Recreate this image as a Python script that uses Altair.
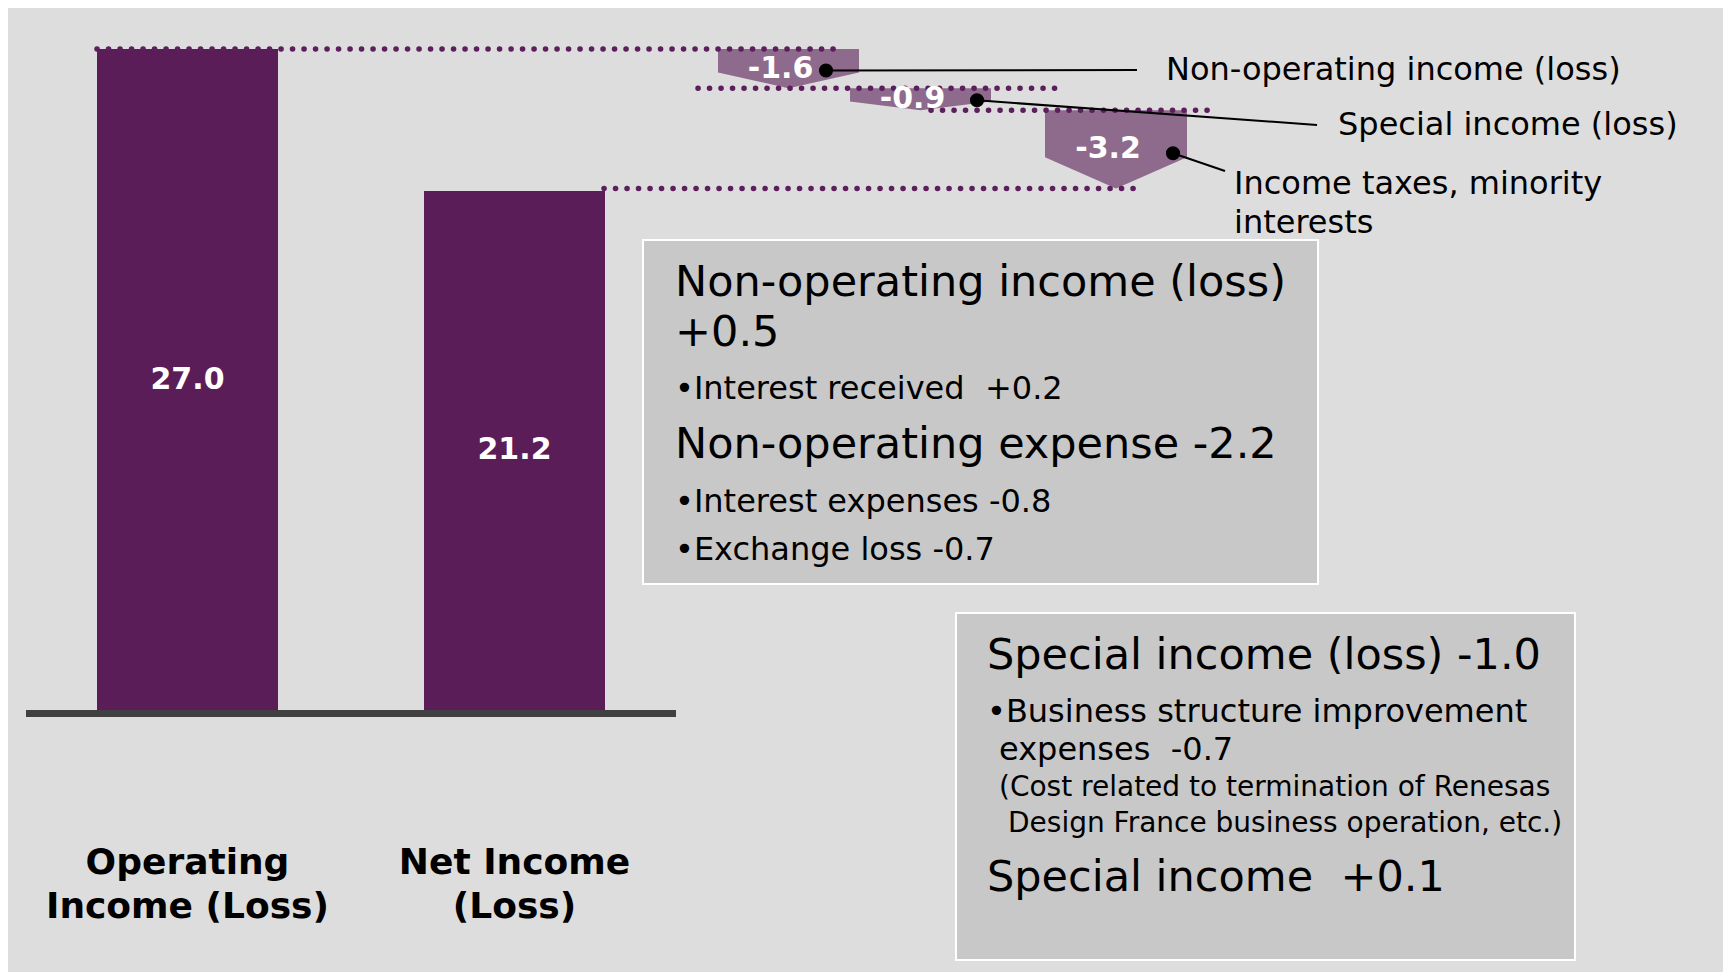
import altair as alt
import pandas as pd

NB = "\u00a0"

# ---------------- data ----------------
categories = ["Operating Income (Loss)", "Net Income (Loss)"]
category_lines = [["Operating", "Income (Loss)"], ["Net Income", "(Loss)"]]
bar_values = [27.0, 21.2]
bar_labels = ["27.0", "21.2"]

step_names = ["Non-operating income (loss)", "Special income (loss)",
              "Income taxes, minority interests"]
step_label_lines = [["Non-operating income (loss)"], ["Special income (loss)"],
                    ["Income taxes, minority", "interests"]]
step_values = [-1.6, -0.9, -3.2]
step_labels = ["-1.6", "-0.9", "-3.2"]

box1_lines = ["Non-operating income (loss)", "+0.5", "\u2022Interest received" + NB + NB + "+0.2",
              "Non-operating expense -2.2", "\u2022Interest expenses -0.8",
              "\u2022Exchange loss -0.7"]
box2_lines = ["Special income (loss) -1.0", "\u2022Business structure improvement",
              "expenses" + NB + NB + "-0.7", "(Cost related to termination of Renesas",
              "Design France business operation, etc.)", "Special income" + NB + NB + "+0.1"]

# ---------------- layout ----------------
W, H = 1715, 964
PX = 661 / 27.0          # pixels per unit
Y0 = 702                 # pixel row of value 0
YMAX = Y0 / PX
YMIN = -(H - Y0) / PX
FONT = "DejaVu Sans"
PURPLE = "#5a1d58"

bar_x = [(89, 270), (416, 597)]
block_x = [(710, 851), (842, 983), (1037, 1179)]
guide_x = [(89, 826), (690, 1055), (923, 1203), (596, 1126)]
dot_x = [818, 969, 1165]
dot_frac = 0.55
leader_end = [1129, 1309, 1217]
leader_end_y = [62, 117, 163]
label_x = [1158, 1330, 1226]
label_line_y = [[62], [117], [176, 215]]
rect_frac = 0.6

box_rects = [(635, 1310, 232, 576), (948, 1567, 605, 952)]
box1_pos = dict(x=[667] * 6, y=[275, 325, 381, 437, 494, 542], s=[43, 43, 32, 43, 32, 32])
box2_pos = dict(x=[979, 979, 991, 991, 1000, 979], y=[648, 704, 742, 780, 816, 870],
                s=[43, 32, 32, 28, 28, 43])
cat_line_y = [855, 899]

yscale = alt.Scale(domain=[YMIN, YMAX], nice=False, zero=False)


def Yv(field):
    return alt.Y(field, type="quantitative", scale=yscale, axis=None)


def Xp(field):
    return alt.X(field, type="quantitative", scale=None, axis=None)


def Yp(field):
    return alt.Y(field, type="quantitative", scale=None, axis=None)


def to_px(v):
    return Y0 - v * PX


# ---------------- derived tables ----------------
bars_df = pd.DataFrame({
    "cat": categories, "value": bar_values, "label": bar_labels,
    "x0": [b[0] for b in bar_x], "x1": [b[1] for b in bar_x],
    "xc": [(b[0] + b[1]) / 2 for b in bar_x], "zero": [0.0, 0.0],
})
bars_df["mid"] = bars_df["value"] / 2

tops, bots = [], []
level = bar_values[0]
for v in step_values:
    tops.append(level)
    level = round(level + v, 2)
    bots.append(level)
levels = [tops[0]] + bots

area_rows, step_rows, label_rows = [], [], []
for i, (name, v) in enumerate(zip(step_names, step_values)):
    x0, x1 = block_x[i]
    t = tops[i]
    area_rows += [
        {"step": name, "x": x0, "top": t, "bot": t + rect_frac * v},
        {"step": name, "x": (x0 + x1) / 2, "top": t, "bot": t + v},
        {"step": name, "x": x1, "top": t, "bot": t + rect_frac * v},
    ]
    step_rows.append({"step": name, "label": step_labels[i], "xc": (x0 + x1) / 2 - 8,
                      "mid": t + v / 2, "dot_py": to_px(t + dot_frac * v),
                      "dx": dot_x[i], "lx": leader_end[i], "ly": leader_end_y[i]})
    for line, y in zip(step_label_lines[i], label_line_y[i]):
        label_rows.append({"text": line, "x": label_x[i], "y": y})

area_df = pd.DataFrame(area_rows)
step_df = pd.DataFrame(step_rows)
label_df = pd.DataFrame(label_rows)

guide_df = pd.DataFrame({"x0": [g[0] for g in guide_x], "x1": [g[1] for g in guide_x],
                         "v": levels})
base_df = pd.DataFrame({"x0": [18], "x1": [668], "v": [-3.5 / PX]})

boxes_df = pd.DataFrame({"x0": [b[0] for b in box_rects], "x1": [b[1] for b in box_rects],
                         "y0": [b[2] for b in box_rects], "y1": [b[3] for b in box_rects]})

ann_df = pd.DataFrame({
    "text": box1_lines + box2_lines,
    "x": box1_pos["x"] + box2_pos["x"],
    "y": box1_pos["y"] + box2_pos["y"],
    "s": box1_pos["s"] + box2_pos["s"],
})

cat_rows = []
for i, lines in enumerate(category_lines):
    for line, y in zip(lines, cat_line_y):
        cat_rows.append({"text": line, "x": (bar_x[i][0] + bar_x[i][1]) / 2, "y": y})
cat_df = pd.DataFrame(cat_rows)

# ---------------- layers ----------------
boxes = alt.Chart(boxes_df).mark_rect(fill="#c8c8c8", stroke="white", strokeWidth=2).encode(
    x=Xp("x0"), x2="x1:Q", y=Yp("y0"), y2="y1:Q")

bars = alt.Chart(bars_df).mark_rect(color=PURPLE).encode(
    x=Xp("x0"), x2="x1:Q", y=Yv("value"), y2="zero:Q")

baseline = alt.Chart(base_df).mark_rule(color="#404040", strokeWidth=7).encode(
    x=Xp("x0"), x2="x1:Q", y=Yv("v"))

blocks = alt.Chart(area_df).mark_area(color="#8e6a8c", opacity=1, interpolate="linear").encode(
    x=Xp("x"), y=Yv("top"), y2="bot:Q", detail="step:N")

guides = alt.Chart(guide_df).mark_rule(color="#5c1f5c", strokeWidth=5.5, strokeDash=[0.1, 11.4],
                                       strokeCap="round").encode(
    x=Xp("x0"), x2="x1:Q", y=Yv("v"))

leaders = alt.Chart(step_df).mark_rule(color="black", strokeWidth=2).encode(
    x=Xp("dx"), x2="lx:Q", y=Yp("dot_py"), y2="ly:Q")

dots = alt.Chart(step_df).mark_circle(color="black", opacity=1, size=200).encode(
    x=Xp("dx"), y=Yp("dot_py"))

step_text = alt.Chart(step_df).mark_text(font=FONT, fontSize=30, fontWeight="bold", color="white",
                                         align="center", baseline="middle").encode(
    x=Xp("xc"), y=Yv("mid"), text="label:N")

bar_text = alt.Chart(bars_df).mark_text(font=FONT, fontSize=30, fontWeight="bold", color="white",
                                        align="center", baseline="middle").encode(
    x=Xp("xc"), y=Yv("mid"), text="label:N")

right_labels = alt.Chart(label_df).mark_text(font=FONT, fontSize=32, color="black",
                                             align="left", baseline="middle").encode(
    x=Xp("x"), y=Yp("y"), text="text:N")

ann_text = alt.Chart(ann_df).mark_text(font=FONT, color="black", align="left",
                                       baseline="middle").encode(
    x=Xp("x"), y=Yp("y"), text="text:N",
    size=alt.Size("s:Q", scale=None, legend=None))

cat_text = alt.Chart(cat_df).mark_text(font=FONT, fontSize=36, fontWeight="bold", color="black",
                                       align="center", baseline="middle").encode(
    x=Xp("x"), y=Yp("y"), text="text:N")

chart = alt.layer(
    boxes, bars, baseline, blocks, guides, leaders, dots,
    step_text, bar_text, right_labels, ann_text, cat_text,
).resolve_scale(
    x="independent", y="independent", size="independent"
).properties(
    width=W, height=H, background="#dddddd", padding=0,
    autosize=alt.AutoSizeParams(type="none"),
).configure_view(stroke=None)

chart.save("out.html", embed_options={"renderer": "svg", "actions": False})
